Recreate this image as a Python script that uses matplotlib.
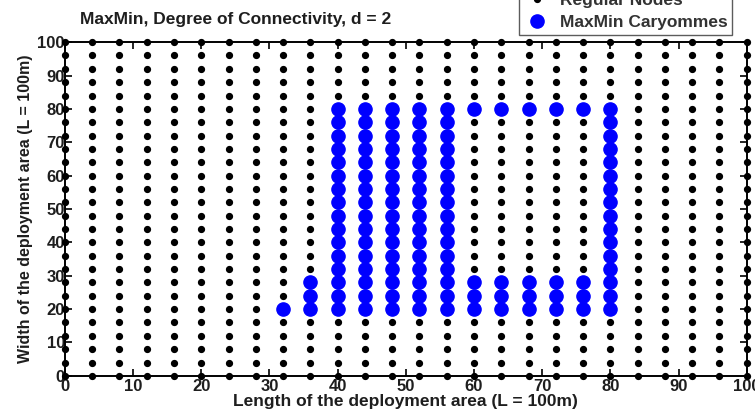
import numpy as np
import matplotlib.pyplot as plt
from matplotlib.lines import Line2D

plt.rcParams["font.family"] = ["Liberation Sans", "DejaVu Sans"]
plt.rcParams["font.weight"] = "bold"
txt_color = "#1e1e1e"

# regular deployment grid (every 4 m over a 100 m square)
grid_x = [0, 4, 8, 12, 16, 20, 24, 28, 32, 36, 40, 44, 48, 52, 56, 60, 64, 68, 72, 76, 80, 84, 88, 92, 96, 100]
grid_y = [0, 4, 8, 12, 16, 20, 24, 28, 32, 36, 40, 44, 48, 52, 56, 60, 64, 68, 72, 76, 80, 84, 88, 92, 96, 100]

# caryomme nodes selected by MaxMin, column by column
full_col = [20, 24, 28, 32, 36, 40, 44, 48, 52, 56, 60, 64, 68, 72, 76, 80]
caryomme_cols = {
    32: [20],
    36: [20, 24, 28],
    40: full_col,
    44: full_col,
    48: full_col,
    52: full_col,
    56: full_col,
    60: [20, 24, 28, 80],
    64: [20, 24, 28, 80],
    68: [20, 24, 28, 80],
    72: [20, 24, 28, 80],
    76: [20, 24, 28, 80],
    80: full_col,
}
car_x = [x for x, ys in caryomme_cols.items() for _ in ys]
car_y = [y for ys in caryomme_cols.values() for y in ys]

fig = plt.figure(figsize=(7.55, 4.09), dpi=100)
ax = fig.add_axes([0.086, 0.081, 0.903, 0.816])

gx, gy = np.meshgrid(grid_x, grid_y)
ax.plot(gx.ravel(), gy.ravel(), "o", color="black", markersize=4.2,
        linestyle="none", clip_on=False, zorder=3)
ax.plot(car_x, car_y, "o", color="#0000ff", markersize=9.5,
        linestyle="none", clip_on=False, zorder=4)

ax.set_xlim(0, 100)
ax.set_ylim(0, 100)
ax.set_xticks(range(0, 101, 10))
ax.set_yticks(range(0, 101, 10))
ax.tick_params(direction="in", length=5, width=1.2, top=True, right=True,
               labelsize=12, pad=0, labelcolor=txt_color)
ax.tick_params(axis="x", pad=2)
for s in ax.spines.values():
    s.set_linewidth(1.4)

ax.set_xlabel("Length of the deployment area (L = 100m)", fontsize=12.5,
              fontweight="bold", labelpad=0, color=txt_color)
ax.set_ylabel("Width of the deployment area (L = 100m)", fontsize=11.5,
              fontweight="bold", labelpad=3, color=txt_color)
fig.text(0.106, 0.953, "MaxMin, Degree of Connectivity, d = 2", fontsize=12.5,
         fontweight="bold", ha="left", va="center", color=txt_color)

handles = [
    Line2D([], [], marker="o", color="black", markersize=4.2, linestyle="none"),
    Line2D([], [], marker="o", color="#0000ff", markersize=9.5, linestyle="none"),
]
leg = fig.legend(handles, ["Regular Nodes", "MaxMin Caryommes"], loc="lower right",
                 bbox_to_anchor=(0.969, 0.915), fontsize=12.5, frameon=True,
                 fancybox=False, edgecolor="#333333", handletextpad=0.5,
                 borderpad=0.25, labelspacing=0.4, handlelength=1.6,
                 borderaxespad=0)
for t in leg.get_texts():
    t.set_color("#333333")

fig.savefig("out.png", dpi=100)
